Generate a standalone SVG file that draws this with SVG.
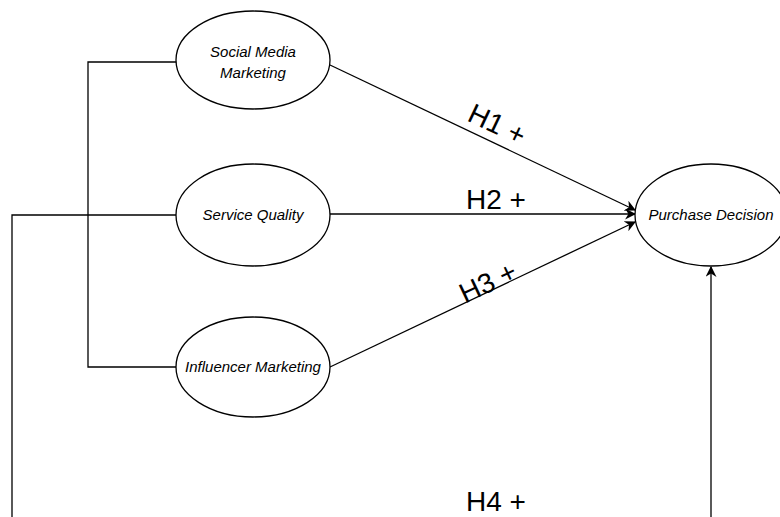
<svg xmlns="http://www.w3.org/2000/svg" width="780" height="517" viewBox="0 0 780 517">
<defs>
<marker id="arr" viewBox="0 0 10 10" refX="9" refY="5" markerWidth="11" markerHeight="11" markerUnits="userSpaceOnUse" orient="auto"><path d="M0,0 L10,5 L0,10 L3,5 Z" fill="#000"/></marker>
<style>
.node ellipse{fill:#fff;stroke:#000;stroke-width:1.3}
.node text{font-family:"Liberation Sans",Arial,sans-serif;font-style:italic;font-size:15px;text-anchor:middle;fill:#000}
.conn path{fill:none;stroke:#000;stroke-width:1.3}
.lbl{font-family:"Liberation Sans",Arial,sans-serif;font-size:28px;text-anchor:middle;fill:#000}
</style>
</defs>
<rect width="780" height="517" fill="#fff"/>
<g id="connectors" class="conn">
<path d="M177,62 H88 V367 H177"/>
<path d="M177,215 H12 V517"/>
<path d="M330,65 L635,210" marker-end="url(#arr)"/>
<path d="M330,214 L635,214" marker-end="url(#arr)"/>
<path d="M330,367 L635,222" marker-end="url(#arr)"/>
<path d="M711,517 V267" marker-end="url(#arr)"/>
</g>
<g id="smm" class="node"><ellipse cx="253" cy="60" rx="77" ry="49"/><text x="253" y="57">Social Media</text><text x="253" y="78">Marketing</text></g>
<g id="sq" class="node"><ellipse cx="253" cy="215" rx="77" ry="51"/><text x="253" y="220">Service Quality</text></g>
<g id="im" class="node"><ellipse cx="253" cy="367" rx="77" ry="50"/><text x="253" y="372">Influencer Marketing</text></g>
<g id="pd" class="node"><ellipse cx="711" cy="215" rx="76" ry="51"/><text x="711" y="220">Purchase Decision</text></g>
<g id="labels">
<text class="lbl" transform="translate(493,133) rotate(25.4)">H1 +</text>
<text class="lbl" transform="translate(496,209)">H2 +</text>
<text class="lbl" transform="translate(492,291) rotate(-25.4)">H3 +</text>
<text class="lbl" transform="translate(496,511)">H4 +</text>
</g>
</svg>
